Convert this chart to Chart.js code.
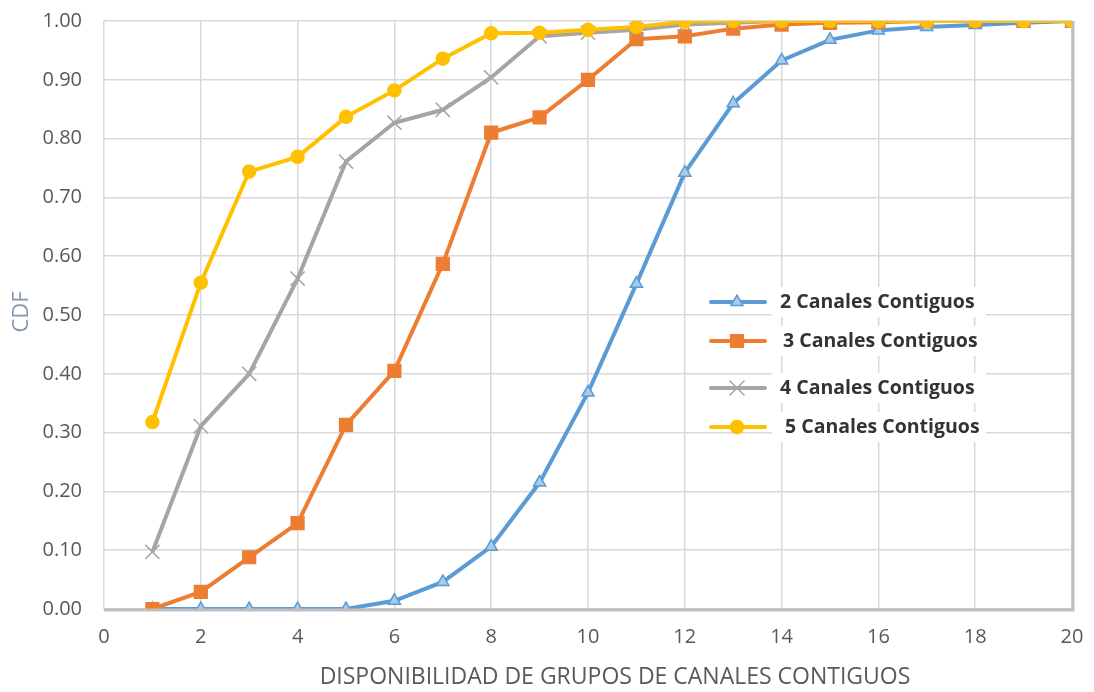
<!DOCTYPE html>
<html>
<head>
    <title>CDF Canales Contiguos</title>
    <script src="https://cdn.jsdelivr.net/npm/chart.js@4.4.0/dist/chart.umd.min.js"></script>
    <style>
        body { margin: 0; background: #fff; }
        #wrap { width: 1094px; height: 692px; }
    </style>
</head>
<body>
    <div id="wrap"><canvas id="cdfChart" width="1094" height="692"></canvas></div>

    <script>
        // x values (number of groups)
        var grupos = [1, 2, 3, 4, 5, 6, 7, 8, 9, 10, 11, 12, 13, 14, 15, 16, 17, 18, 19, 20];

        // series
        var canales2 = [0, 0, 0, 0, 0, 0.014, 0.046, 0.106, 0.215, 0.368, 0.553, 0.742, 0.860, 0.933, 0.968, 0.984, 0.990, 0.993, 0.997, 1.0];
        var canales3 = [0, 0.029, 0.088, 0.146, 0.313, 0.405, 0.587, 0.810, 0.836, 0.900, 0.969, 0.974, 0.987, 0.994, 0.997, 0.998, 1.0, 1.0, 1.0, 1.0];
        var canales4 = [0.097, 0.311, 0.400, 0.562, 0.761, 0.827, 0.849, 0.904, 0.974, 0.980, 0.985, 0.994, 0.997, 1.0, 1.0, 1.0, 1.0, 1.0, 1.0, 1.0];
        var canales5 = [0.318, 0.555, 0.744, 0.769, 0.837, 0.882, 0.936, 0.979, 0.980, 0.985, 0.990, 0.999, 1.0, 1.0, 1.0, 1.0, 1.0, 1.0, 1.0, 1.0];

        var seriesLabels = ['2 Canales Contiguos', '3 Canales Contiguos', '4 Canales Contiguos', '5 Canales Contiguos'];
        var xTitle = 'DISPONIBILIDAD DE GRUPOS DE CANALES CONTIGUOS';
        var yTitle = 'CDF';

        function toPoints(values) {
            return values.map(function (v, i) { return { x: grupos[i], y: v }; });
        }

        // legend drawn inside the plot, like the original
        var insideLegend = {
            id: 'insideLegend',
            afterDraw: function (chart) {
                var ctx = chart.ctx;
                var rows = [302, 341, 388, 427];
                var textX = [780, 783, 780, 785];
                ctx.save();
                chart.data.datasets.forEach(function (ds, i) {
                    var y = rows[i];
                    ctx.fillStyle = '#ffffff';
                    ctx.fillRect(772, y - 15, 214, 30);
                    ctx.strokeStyle = ds.borderColor;
                    ctx.lineWidth = 4;
                    ctx.lineCap = 'round';
                    ctx.beginPath();
                    ctx.moveTo(711, y);
                    ctx.lineTo(765, y);
                    ctx.stroke();
                    ctx.fillStyle = ds.pointBackgroundColor;
                    ctx.strokeStyle = ds.pointBorderColor;
                    ctx.lineWidth = ds.pointBorderWidth;
                    Chart.helpers.drawPoint(ctx, {
                        pointStyle: ds.pointStyle,
                        radius: ds.pointRadius,
                        borderWidth: ds.pointBorderWidth
                    }, 737, y);
                    ctx.fillStyle = '#333333';
                    ctx.font = 'bold 19.5px "Open Sans"';
                    ctx.textBaseline = 'middle';
                    ctx.textAlign = 'left';
                    ctx.fillText(ds.label, textX[i], y);
                });
                ctx.restore();
            }
        };

        // axis titles, placed where the original has them
        var axisTitles = {
            id: 'axisTitles',
            afterDraw: function (chart) {
                var ctx = chart.ctx;
                ctx.save();
                ctx.textAlign = 'center';
                ctx.textBaseline = 'middle';
                ctx.fillStyle = '#595959';
                ctx.font = '23px "Open Sans"';
                ctx.fillText(xTitle, 615, 677);
                ctx.translate(22, 312);
                ctx.rotate(-Math.PI / 2);
                ctx.fillStyle = '#8497b0';
                ctx.font = '22px "Open Sans"';
                ctx.fillText(yTitle, 0, 0);
                ctx.restore();
            }
        };

        // soft shadow on bottom and right edges of the plot
        var plotEdge = {
            id: 'plotEdge',
            afterDraw: function (chart) {
                var a = chart.chartArea;
                var ctx = chart.ctx;
                ctx.save();
                ctx.strokeStyle = '#bfbfbf';
                ctx.lineWidth = 3;
                ctx.beginPath();
                ctx.moveTo(a.left, a.bottom + 1);
                ctx.lineTo(a.right + 1, a.bottom + 1);
                ctx.lineTo(a.right + 1, a.top);
                ctx.stroke();
                ctx.restore();
            }
        };

        function makeDataset(label, values, color, style, radius, fill) {
            return {
                label: label,
                data: toPoints(values),
                borderColor: color,
                backgroundColor: color,
                borderWidth: 4,
                pointStyle: style,
                pointRadius: radius,
                pointBackgroundColor: fill,
                pointBorderColor: color,
                pointBorderWidth: 1.5,
                tension: 0
            };
        }

        var ds2 = makeDataset(seriesLabels[0], canales2, '#5b9bd5', 'triangle', 7, '#a9cbe9');
        ds2.order = 3;
        var ds3 = makeDataset(seriesLabels[1], canales3, '#ed7d31', 'rect', 9, '#ed7d31');
        ds3.order = 2;
        var ds4 = makeDataset(seriesLabels[2], canales4, '#a5a5a5', 'crossRot', 10, '#a5a5a5');
        ds4.order = 1;
        var ds5 = makeDataset(seriesLabels[3], canales5, '#ffc000', 'circle', 6.5, '#ffc000');
        ds5.order = 0;

        var ctx = document.getElementById('cdfChart').getContext('2d');
        new Chart(ctx, {
            type: 'line',
            data: { datasets: [ds2, ds3, ds4, ds5] },
            options: {
                responsive: false,
                animation: false,
                layout: { padding: { top: 21, right: 22, left: 0, bottom: 0 } },
                plugins: {
                    legend: { display: false },
                    tooltip: { enabled: false }
                },
                scales: {
                    x: {
                        type: 'linear',
                        min: 0,
                        max: 20,
                        grid: { color: '#d9d9d9', lineWidth: 1.5, drawTicks: false },
                        border: { display: false },
                        ticks: {
                            stepSize: 2,
                            color: '#595959',
                            padding: 16,
                            font: { family: '"Open Sans"', size: 20 }
                        },
                        afterFit: function (scale) {
                            scale.height = 83;
                            scale.paddingLeft = 0;
                            scale.paddingRight = 0;
                        }
                    },
                    y: {
                        min: 0,
                        max: 1,
                        grid: { color: '#d9d9d9', lineWidth: 1.5, drawTicks: false },
                        border: { display: false },
                        ticks: {
                            stepSize: 0.1,
                            color: '#595959',
                            padding: 22,
                            font: { family: '"Open Sans"', size: 20 },
                            callback: function (v) { return v.toFixed(2); }
                        },
                        afterFit: function (scale) {
                            scale.width = 104;
                            scale.paddingTop = 0;
                            scale.paddingBottom = 0;
                        }
                    }
                }
            },
            plugins: [plotEdge, insideLegend, axisTitles]
        });
    </script>
</body>
</html>
